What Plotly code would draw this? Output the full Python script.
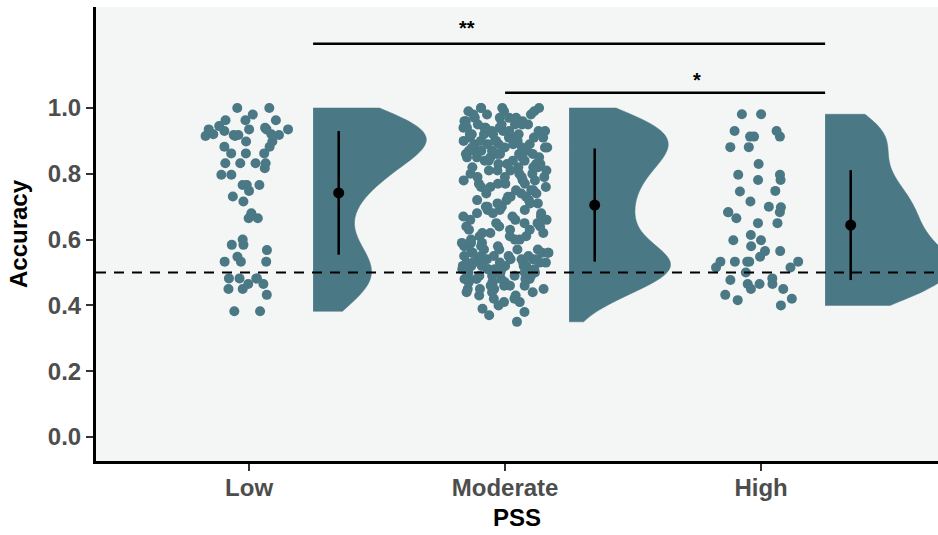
import plotly.graph_objects as go

# ---------------- data ----------------
categories = ["Low", "Moderate", "High"]
cat_pos = [1, 2, 3]

low_acc = [1.0, 1.0, 0.98, 0.963, 0.963, 0.963,
           0.945, 0.94, 0.935, 0.935, 0.93, 0.935, 0.92, 0.918, 0.918, 0.918,
           0.935, 0.92, 0.915, 0.915,
           0.898, 0.898, 0.882, 0.882, 0.862, 0.862, 0.862,
           0.832, 0.832, 0.832, 0.832, 0.817, 0.797, 0.797,
           0.766, 0.766, 0.766, 0.748, 0.731, 0.716, 0.68, 0.665, 0.665,
           0.6, 0.584, 0.584, 0.568, 0.548, 0.533, 0.533, 0.533,
           0.482, 0.482, 0.482, 0.482, 0.465, 0.465, 0.45, 0.45, 0.432,
           0.382, 0.382]

moderate_levels = [0.35, 0.36, 0.37, 0.38, 0.39, 0.40, 0.41, 0.42, 0.43, 0.44,
                   0.45, 0.46, 0.47, 0.48, 0.49, 0.50, 0.51, 0.52, 0.53, 0.54,
                   0.55, 0.56, 0.57, 0.58, 0.59, 0.60, 0.61, 0.62, 0.63, 0.64,
                   0.65, 0.66, 0.67, 0.68, 0.69, 0.70, 0.71, 0.72, 0.73, 0.74,
                   0.75, 0.76, 0.77, 0.78, 0.79, 0.80, 0.81, 0.82, 0.83, 0.84,
                   0.85, 0.86, 0.87, 0.88, 0.89, 0.90, 0.91, 0.92, 0.93, 0.94,
                   0.95, 0.96, 0.97, 0.98, 0.99, 1.00]
moderate_counts = [1, 0, 1, 1, 1, 1, 2, 2, 2, 3,
                   4, 4, 4, 5, 5, 5, 6, 6, 6, 6,
                   5, 5, 4, 4, 3, 3, 3, 3, 3, 3,
                   3, 3, 3, 3, 3, 3, 3, 3, 3, 3,
                   3, 3, 4, 3, 4, 3, 4, 4, 4, 4,
                   5, 5, 5, 5, 5, 5, 5, 5, 5, 5,
                   5, 4, 4, 3, 3, 4]

high_acc = [0.981, 0.981, 0.93, 0.913, 0.913, 0.93, 0.913, 0.881, 0.881,
            0.83, 0.797, 0.797, 0.781, 0.746, 0.781, 0.748,
            0.716, 0.70, 0.683, 0.698, 0.683, 0.683, 0.665, 0.65, 0.65,
            0.614, 0.598, 0.598, 0.565, 0.58, 0.565,
            0.533, 0.533, 0.533, 0.533, 0.515, 0.548, 0.533, 0.515,
            0.50, 0.482, 0.477, 0.465, 0.465, 0.45, 0.432, 0.45, 0.465,
            0.416, 0.42, 0.40]

group_means = [0.742, 0.705, 0.644]
group_sds = [0.188, 0.172, 0.167]
chance_level = 0.5

sig_labels = ["**", "*"]
sig_from = ["Low", "Moderate"]
sig_to = ["High", "High"]
sig_height = [1.195, 1.046]

y_ticks = [0.0, 0.2, 0.4, 0.6, 0.8, 1.0]

# ---------------- styling ----------------
TEAL = "#4a7884"
FONT = "Liberation Sans, Arial, Helvetica, sans-serif"

moderate_acc = []
for lv, c in zip(moderate_levels, moderate_counts):
    moderate_acc += [lv] * c

groups = [low_acc, moderate_acc, high_acc]
violin_width = [0.885, 0.79, 0.98]
bandwidths = [0.072, 0.05, 0.068]
jitter_width = [0.36, 0.34, 0.37]

fig = go.Figure()

for pos, vals, w, bw in zip(cat_pos, groups, violin_width, bandwidths):
    fig.add_trace(go.Violin(
        x=[pos + 0.25] * len(vals), y=vals, side="positive", width=w,
        spanmode="hard", bandwidth=bw, scalemode="width",
        fillcolor=TEAL, line=dict(color=TEAL, width=0.5), opacity=1,
        points=False, box_visible=False, meanline_visible=False,
        hoverinfo="skip", showlegend=False))

for pos, vals, jw in zip(cat_pos, groups, jitter_width):
    fig.add_trace(go.Box(
        x=[pos] * len(vals), y=vals, boxpoints="all", jitter=1, pointpos=0,
        width=jw, fillcolor="rgba(0,0,0,0)",
        line=dict(width=0, color="rgba(0,0,0,0)"),
        marker=dict(color=TEAL, size=10, opacity=1, line=dict(width=0)),
        hoverinfo="skip", showlegend=False))

fig.add_trace(go.Scatter(
    x=[p + 0.35 for p in cat_pos], y=group_means, mode="markers",
    marker=dict(color="black", size=11),
    error_y=dict(type="data", array=group_sds, visible=True, color="black",
                 thickness=2.5, width=0),
    hoverinfo="skip", showlegend=False))

# significance bars
pos_of = dict(zip(categories, cat_pos))
star_x = [1.85, 2.75]
for lab, a, b, h, sx in zip(sig_labels, sig_from, sig_to, sig_height, star_x):
    x0 = pos_of[a] + (0.25 if a == "Low" else 0.0)
    x1 = pos_of[b] + 0.25
    fig.add_trace(go.Scatter(x=[x0, x1], y=[h, h], mode="lines",
                             line=dict(color="black", width=2.5),
                             hoverinfo="skip", showlegend=False))
    fig.add_annotation(x=sx, y=h + (0.048 if lab == "**" else 0.038), text=lab,
                       showarrow=False, xref="x", yref="y",
                       font=dict(family=FONT, size=20, color="black", weight="bold"))

fig.add_shape(type="line", xref="paper", x0=0, x1=1, yref="y",
              y0=chance_level, y1=chance_level, layer="above",
              line=dict(color="black", width=2, dash="10px,8px"))

axis_common = dict(showline=True, linecolor="black", linewidth=3,
                   ticks="outside", ticklen=7, tickwidth=1.5, tickcolor="#333333",
                   showgrid=False, zeroline=False,
                   tickfont=dict(family=FONT, size=24, color="#4d4d4d", weight="bold"))

fig.update_layout(
    width=938, height=535,
    margin=dict(l=96, r=0, t=7, b=74),
    paper_bgcolor="white", plot_bgcolor="#f4f5f5",
    violinmode="overlay", boxmode="overlay",
    showlegend=False,
    xaxis=dict(range=[0.402, 3.691], tickvals=cat_pos, ticktext=categories,
               ticklabelstandoff=-4,
               title=dict(text="PSS", standoff=10,
                          font=dict(family=FONT, size=24, color="black", weight="bold")),
               **axis_common),
    yaxis=dict(range=[-0.073, 1.307], tickvals=y_ticks,
               ticktext=[f"{v:.1f}" for v in y_ticks],
               title=dict(text="Accuracy", standoff=14,
                          font=dict(family=FONT, size=24, color="black", weight="bold")),
               **axis_common),
)

fig.write_html("out.html")
